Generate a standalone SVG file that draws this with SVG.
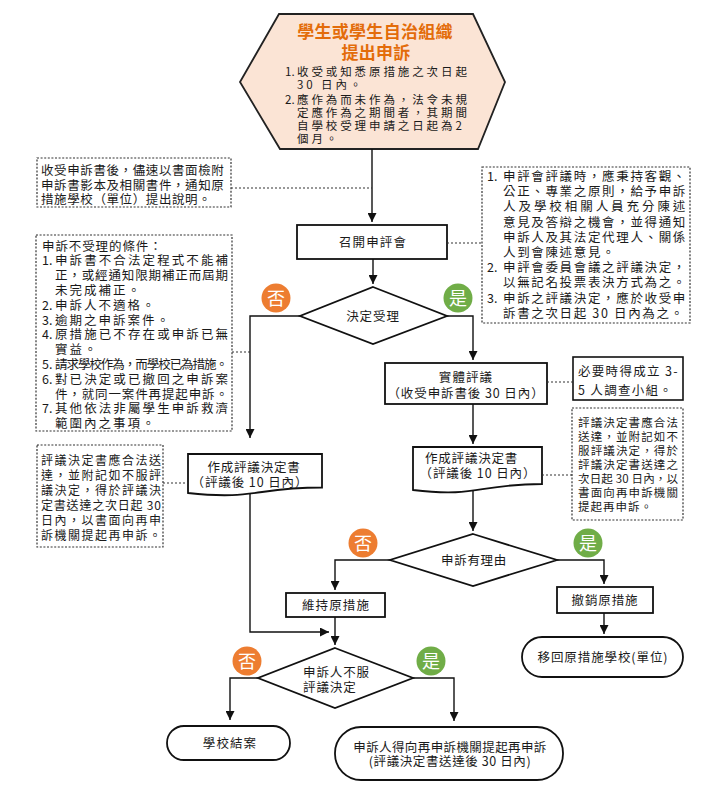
<svg xmlns="http://www.w3.org/2000/svg" width="728" height="791" viewBox="0 0 728 791">
<defs>
<marker id="ah" viewBox="0 0 10 10" refX="10" refY="5" markerWidth="9" markerHeight="9" markerUnits="userSpaceOnUse" orient="auto"><path d="M0,0 L10,5 L0,10 z" fill="#111"/></marker>
</defs>
<style>
.t{font-family:"Noto Sans CJK TC","Noto Sans CJK SC",sans-serif;font-size:12.5px;fill:#1a1a1a}
.c{text-anchor:middle}
.box{fill:#fff;stroke:#111;stroke-width:1.8}
.note{fill:#fff;stroke:#333;stroke-width:1.2;stroke-dasharray:2 1.6}
.ln{fill:none;stroke:#111;stroke-width:1.4}
.arr{marker-end:url(#ah)}
.dash{fill:none;stroke:#333;stroke-width:1.1;stroke-dasharray:2 2}
.no{fill:#ED7D31}
.yes{fill:#70AD47}
.ct{font-family:"Noto Sans CJK TC","Noto Sans CJK SC",sans-serif;font-size:18px;fill:#fff;text-anchor:middle}
.title{font-family:"Noto Sans CJK TC","Noto Sans CJK SC",sans-serif;font-size:17px;font-weight:bold;fill:#E36C0A;text-anchor:middle}
</style>
<rect width="728" height="791" fill="#fff"/>

<g id="start">
<polygon points="279,14 473,14 505,82 478,149 280,149 240,82" fill="#FBE4D5" stroke="#222" stroke-width="1.8"/>
<text class="title" x="375" y="38" letter-spacing="0.3">學生或學生自治組織</text>
<text class="title" x="376" y="59" letter-spacing="0.3">提出申訴</text>
<g class="t" style="font-size:11.5px" letter-spacing="2.9">
<text x="285" y="76" letter-spacing="0">1.</text><text x="297" y="76">收受或知悉原措施之次日起</text>
<text x="297" y="88.5">30 日內。</text>
<text x="285" y="104" letter-spacing="0">2.</text><text x="297" y="104">應作為而未作為，法令未規</text>
<text x="297" y="117">定應作為之期間者，其期間</text>
<text x="297" y="130">自學校受理申請之日起為2</text>
<text x="297" y="143">個月。</text>
</g>
</g>

<g id="note-notify">
<rect class="note" x="37" y="158" width="194" height="49"/>
<g class="t" letter-spacing="0.6">
<text x="41" y="175">收受申訴書後，儘速以書面檢附</text>
<text x="41" y="189.5">申訴書影本及相關書件，通知原</text>
<text x="41" y="204">措施學校（單位）提出說明。</text>
</g>
</g>

<g id="note-review">
<rect class="note" x="482" y="167" width="208" height="156"/>
<g class="t" letter-spacing="1.65">
<text x="487" y="181" letter-spacing="0">1.</text><text x="503" y="181" textLength="184" lengthAdjust="spacing">申評會評議時，應秉持客觀、</text>
<text x="503" y="196.2" textLength="184" lengthAdjust="spacing">公正、專業之原則，給予申訴</text>
<text x="503" y="211.4" textLength="184" lengthAdjust="spacing">人及學校相關人員充分陳述</text>
<text x="503" y="226.6" textLength="184" lengthAdjust="spacing">意見及答辯之機會，並得通知</text>
<text x="503" y="241.8" textLength="184" lengthAdjust="spacing">申訴人及其法定代理人、關係</text>
<text x="503" y="257">人到會陳述意見。</text>
<text x="487" y="272.2" letter-spacing="0">2.</text><text x="503" y="272.2" textLength="184" lengthAdjust="spacing">申評會委員會議之評議決定，</text>
<text x="503" y="287.4" textLength="184" lengthAdjust="spacing">以無記名投票表決方式為之。</text>
<text x="487" y="302.6" letter-spacing="0">3.</text><text x="503" y="302.6" textLength="184" lengthAdjust="spacing">申訴之評議決定，應於收受申</text>
<text x="503" y="317.8">訴書之次日起 30 日內為之。</text>
</g>
</g>

<g id="note-reject">
<rect class="note" x="36" y="235" width="196" height="196"/>
<g class="t" letter-spacing="2">
<text x="42" y="250.5" letter-spacing="0.9">申訴不受理的條件：</text>
<text x="42" y="265.3" letter-spacing="0">1.</text><text x="55" y="265.3" textLength="175" lengthAdjust="spacing">申訴書不合法定程式不能補</text>
<text x="55" y="280.1" textLength="175" lengthAdjust="spacing">正，或經通知限期補正而屆期</text>
<text x="55" y="294.9">未完成補正。</text>
<text x="42" y="309.7" letter-spacing="0">2.</text><text x="55" y="309.7">申訴人不適格。</text>
<text x="42" y="324.5" letter-spacing="0">3.</text><text x="55" y="324.5">逾期之申訴案件。</text>
<text x="42" y="339.3" letter-spacing="0">4.</text><text x="55" y="339.3" textLength="175" lengthAdjust="spacing">原措施已不存在或申訴已無</text>
<text x="55" y="354.1">實益。</text>
<text x="42" y="368.9" letter-spacing="0">5.</text><text x="55" y="368.9" textLength="175" lengthAdjust="spacing">請求學校作為，而學校已為措施。</text>
<text x="42" y="383.7" letter-spacing="0">6.</text><text x="55" y="383.7" textLength="175" lengthAdjust="spacing">對已決定或已撤回之申訴案</text>
<text x="55" y="398.5" textLength="175" lengthAdjust="spacing">件，就同一案件再提起申訴。</text>
<text x="42" y="413.3" letter-spacing="0">7.</text><text x="55" y="413.3" textLength="175" lengthAdjust="spacing">其他依法非屬學生申訴救濟</text>
<text x="55" y="428.1">範圍內之事項。</text>
</g>
</g>

<g id="convene">
<rect class="box" x="297" y="225" width="150" height="34"/>
<text class="t c" x="373" y="246.5" letter-spacing="1.1">召開申評會</text>
</g>

<g id="decide-accept">
<polygon class="box" points="373,287 447,316 373,344 300,316"/>
<text class="t c" x="373" y="320.5" letter-spacing="0.9">決定受理</text>
</g>

<g id="substantive">
<rect class="box" x="385" y="363" width="162" height="41"/>
<text class="t c" x="466" y="381.5" letter-spacing="1.1">實體評議</text>
<text class="t c" x="466" y="397.5" letter-spacing="0.9">（收受申訴書後 30 日內）</text>
</g>

<g id="note-team">
<rect x="573" y="357" width="110" height="43" fill="#fff" stroke="#111" stroke-width="1.6"/>
<text class="t" x="578" y="376" letter-spacing="1.3">必要時得成立 3-</text>
<text class="t" x="578" y="394.5" letter-spacing="1.3">5 人調查小組。</text>
</g>

<g id="doc-right">
<path class="box" d="M413,447 H542 V484 C477.5,484 477.5,497.9 413,490 Z"/>
<text class="t" x="425" y="462.5" letter-spacing="0.8">作成評議決定書</text>
<text class="t c" x="478" y="477.5" letter-spacing="0.9">（評議後 10 日內）</text>
</g>

<g id="note-right-decision">
<rect class="note" x="572" y="408" width="111" height="112"/>
<g class="t" style="font-size:11.5px">
<text x="578" y="426.5" textLength="100" lengthAdjust="spacing">評議決定書應合法</text>
<text x="578" y="440.5" textLength="100" lengthAdjust="spacing">送達，並附記如不</text>
<text x="578" y="454.5" textLength="100" lengthAdjust="spacing">服評議決定，得於</text>
<text x="578" y="468.5" textLength="100" lengthAdjust="spacing">評議決定書送達之</text>
<text x="578" y="482.5" textLength="100" lengthAdjust="spacing">次日起 30 日內，以</text>
<text x="578" y="496.5" textLength="100" lengthAdjust="spacing">書面向再申訴機關</text>
<text x="578" y="510.5" letter-spacing="1">提起再申訴。</text>
</g>
</g>

<g id="doc-left">
<path class="box" d="M188,454 H322 V487.5 C255,487.5 255,500.3 188,493 Z"/>
<text class="t c" x="254" y="471.5" letter-spacing="0.8">作成評議決定書</text>
<text class="t c" x="250" y="486.5" letter-spacing="0.9">（評議後 10 日內）</text>
</g>

<g id="note-left-decision">
<rect class="note" x="37" y="445" width="126" height="102"/>
<g class="t" style="font-size:12px">
<text x="41" y="464.5" textLength="120" lengthAdjust="spacing">評議決定書應合法送</text>
<text x="41" y="479.5" textLength="120" lengthAdjust="spacing">達，並附記如不服評</text>
<text x="41" y="494.5" textLength="120" lengthAdjust="spacing">議決定，得於評議決</text>
<text x="41" y="509.5" textLength="120" lengthAdjust="spacing">定書送達之次日起 30</text>
<text x="41" y="524.5" textLength="120" lengthAdjust="spacing">日內，以書面向再申</text>
<text x="41" y="539.5" textLength="120" lengthAdjust="spacing">訴機關提起再申訴。</text>
</g>
</g>

<g id="decide-reason">
<polygon class="box" points="473,534 557,560 473,586 390,560"/>
<text class="t c" x="474" y="564.5" letter-spacing="0.7">申訴有理由</text>
</g>

<g id="maintain">
<rect class="box" x="286" y="593" width="99" height="24"/>
<text class="t c" x="336" y="609.5" letter-spacing="1.1">維持原措施</text>
</g>

<g id="revoke">
<rect class="box" x="557" y="587" width="96" height="26"/>
<text class="t c" x="605" y="604.5" letter-spacing="0.9">撤銷原措施</text>
</g>

<g id="return">
<rect class="box" x="522" y="637" width="161" height="40" rx="20"/>
<text class="t c" x="603" y="662" letter-spacing="0.9">移回原措施學校(單位)</text>
</g>

<g id="decide-disagree">
<polygon class="box" points="335,648 413,678 335,708 258,678"/>
<text class="t" x="303" y="676.5" letter-spacing="0.9">申訴人不服</text>
<text class="t" x="303" y="691.5" letter-spacing="0.9">評議決定</text>
</g>

<g id="close">
<rect class="box" x="167" y="726" width="123" height="34" rx="17"/>
<text class="t c" x="230" y="747.5" letter-spacing="1.1">學校結案</text>
</g>

<g id="reappeal">
<rect class="box" x="335" y="727" width="228" height="53" rx="26"/>
<text class="t c" x="450" y="751.5" letter-spacing="0.4">申訴人得向再申訴機關提起再申訴</text>
<text class="t c" x="450" y="766" letter-spacing="0.6">(評議決定書送達後 30 日內)</text>
</g>

<g id="connectors">
<path class="ln arr" d="M372,149 V222"/>
<path class="ln arr" d="M373,259 V284"/>
<path class="ln arr" d="M300,316 H250 V438"/>
<path class="ln arr" d="M447,316 H473 V360"/>
<path class="ln arr" d="M473,404 V444"/>
<path class="ln arr" d="M473,490 V531"/>
<path class="ln arr" d="M390,560 H335 V590"/>
<path class="ln arr" d="M557,560 H604 V584"/>
<path class="ln arr" d="M604,613 V634"/>
<path class="ln arr" d="M335,617 V645"/>
<path class="ln arr" d="M250,493.5 V632 H329"/>
<path class="ln arr" d="M258,678 H230 V720"/>
<path class="ln arr" d="M413,678 H454 V721"/>
<path class="dash" d="M231,188 H372"/>
<path class="dash" d="M447,243 H482"/>
<path class="dash" d="M232,352 H250"/>
<path class="dash" d="M547,382 H573"/>
<path class="dash" d="M542,475 H572"/>
<path class="dash" d="M163,483 H188"/>
</g>

<g id="labels">
<circle class="no" cx="276" cy="298" r="14.5"/><text class="ct" x="276" y="304.5">否</text>
<circle class="yes" cx="458" cy="298" r="14.5"/><text class="ct" x="458" y="304.5">是</text>
<circle class="no" cx="363" cy="543" r="14.5"/><text class="ct" x="363" y="549.5">否</text>
<circle class="yes" cx="588" cy="543" r="14.5"/><text class="ct" x="588" y="549.5">是</text>
<circle class="no" cx="247" cy="661" r="14.5"/><text class="ct" x="247" y="667.5">否</text>
<circle class="yes" cx="431" cy="661" r="14.5"/><text class="ct" x="431" y="667.5">是</text>
</g>
</svg>
